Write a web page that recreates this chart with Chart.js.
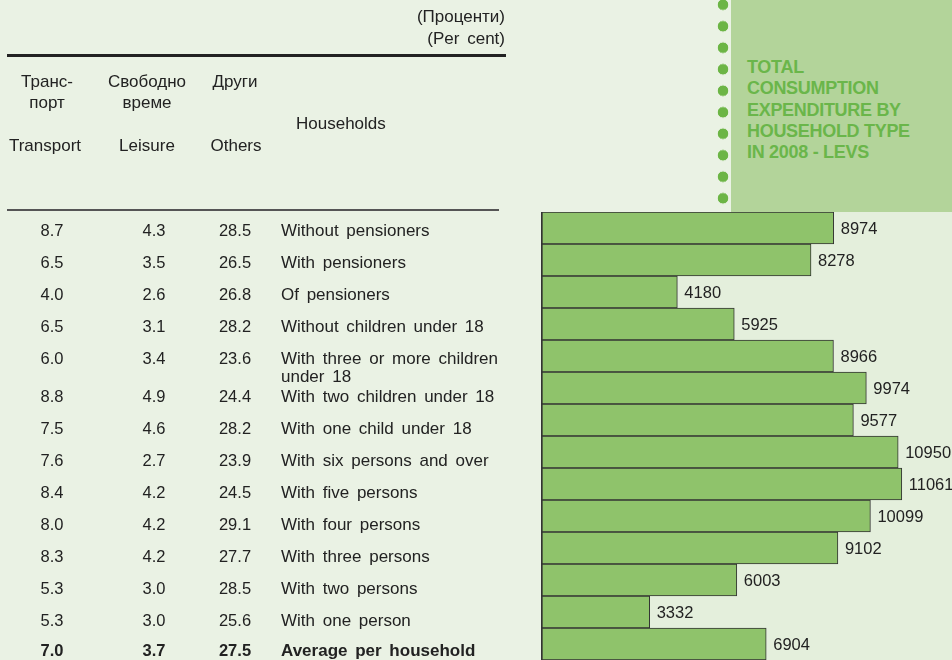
<!DOCTYPE html>
<html>
<head>
<meta charset="utf-8">
<script src="https://cdn.jsdelivr.net/npm/chart.js@4/dist/chart.umd.min.js"></script>
<style>
  html, body { margin: 0; padding: 0; }
  body {
    width: 952px; height: 660px; position: relative; overflow: hidden;
    background: #eaf2e4;
    font-family: "Liberation Sans", Arial, sans-serif; color: #222;
  }
  #chart { position: absolute; left: 0; top: 0; }
  .t { position: absolute; font-size: 17px; line-height: 20px; white-space: nowrap; word-spacing: 3px; }
  .c { transform: translateX(-50%); text-align: center; }
  .r { text-align: right; }
  .rule { position: absolute; left: 7px; }
  #panel { position: absolute; left: 731px; top: 0; width: 221px; height: 212px; background: #b3d49a; }
  #panel-title {
    position: absolute; left: 16px; top: 57px;
    font-weight: bold; font-size: 18px; line-height: 21.3px; color: #6ab64a; letter-spacing: -0.3px;
  }
  #dots {
    position: absolute; left: 712px; top: -6px; width: 22px; height: 215px;
    background: radial-gradient(circle, #6cb545 5px, transparent 5.6px) 0 0 / 22px 21.5px repeat-y;
  }
</style>
</head>
<body>
<canvas id="chart" width="952" height="660"></canvas>

<!-- header block over the table -->
<div class="t r" style="right:447px; top:7px;">(Проценти)</div>
<div class="t r" style="right:447px; top:29px;">(Per cent)</div>
<div class="rule" style="top:54px; width:499px; height:3px; background:#222;"></div>

<div class="t c" style="left:47px; top:72px;">Транс-</div>
<div class="t c" style="left:47px; top:93px;">порт</div>
<div class="t c" style="left:45px; top:136px;">Transport</div>
<div class="t c" style="left:147px; top:72px;">Свободно</div>
<div class="t c" style="left:147px; top:93px;">време</div>
<div class="t c" style="left:147px; top:136px;">Leisure</div>
<div class="t c" style="left:235px; top:72px;">Други</div>
<div class="t c" style="left:236px; top:136px;">Others</div>
<div class="t" style="left:296px; top:114px;">Households</div>
<div class="rule" style="top:209px; width:492px; height:2px; background:#555;"></div>

<div id="dots"></div>
<div id="panel">
  <div id="panel-title">TOTAL<br>CONSUMPTION<br>EXPENDITURE BY<br>HOUSEHOLD TYPE<br>IN 2008 - LEVS</div>
</div>

<script>
const households = [
  'Without pensioners',
  'With pensioners',
  'Of pensioners',
  'Without children under 18',
  ['With three or more children', 'under 18'],
  'With two children under 18',
  'With one child under 18',
  'With six persons and over',
  'With five persons',
  'With four persons',
  'With three persons',
  'With two persons',
  'With one person',
  'Average per household',
];
const totals = [8974, 8278, 4180, 5925, 8966, 9974, 9577, 10950, 11061, 10099, 9102, 6003, 3332, 6904];
const transport = [8.7, 6.5, 4.0, 6.5, 6.0, 8.8, 7.5, 7.6, 8.4, 8.0, 8.3, 5.3, 5.3, 7.0];
const leisure = [4.3, 3.5, 2.6, 3.1, 3.4, 4.9, 4.6, 2.7, 4.2, 4.2, 4.2, 3.0, 3.0, 3.7];
const others = [28.5, 26.5, 26.8, 28.2, 23.6, 24.4, 28.2, 23.9, 24.5, 29.1, 27.7, 28.5, 25.6, 27.5];

const FONT = '"Liberation Sans", Arial, sans-serif';

// light tint behind the bars only
const areaBg = {
  id: 'areaBg',
  beforeDraw(chart) {
    const { ctx, chartArea: a } = chart;
    ctx.save();
    ctx.fillStyle = '#e4efdc';
    ctx.fillRect(a.left, a.top, a.right - a.left, a.bottom - a.top);
    ctx.restore();
  },
};

// totals printed just past the end of each bar
const valueLabels = {
  id: 'valueLabels',
  afterDatasetsDraw(chart) {
    const { ctx } = chart;
    const bars = chart.getDatasetMeta(0).data;
    ctx.save();
    ctx.font = '16.5px ' + FONT;
    ctx.fillStyle = '#222';
    ctx.textBaseline = 'middle';
    bars.forEach((bar, i) => {
      ctx.fillText(String(totals[i]), bar.x + 7, bar.y + 1.5);
    });
    ctx.restore();
  },
};

// percentage columns + household names, one row per category of the y scale
const tableRows = {
  id: 'tableRows',
  afterDraw(chart) {
    const { ctx } = chart;
    const y = chart.scales.y;
    const last = households.length - 1;
    ctx.save();
    ctx.fillStyle = '#222';
    ctx.textBaseline = 'middle';
    if ('wordSpacing' in ctx) ctx.wordSpacing = '3px';
    households.forEach((name, i) => {
      // rows after the wrapped label sit a little lower
      let py = y.getPixelForValue(i) + (i > 4 ? 9.5 : 3);
      if (i === last) py -= 2;
      const weight = i === last ? 'bold ' : '';
      ctx.font = weight + '16.5px ' + FONT;
      ctx.textAlign = 'center';
      ctx.fillText(transport[i].toFixed(1), 52, py);
      ctx.fillText(leisure[i].toFixed(1), 154, py);
      ctx.fillText(others[i].toFixed(1), 235, py);
      ctx.font = weight + '17px ' + FONT;
      ctx.textAlign = 'left';
      const lines = Array.isArray(name) ? name : [name];
      lines.forEach((ln, k) => ctx.fillText(ln, 281, py + k * 18.5));
    });
    ctx.restore();
  },
};

new Chart(document.getElementById('chart'), {
  type: 'bar',
  data: {
    labels: households,
    datasets: [{
      data: totals,
      backgroundColor: '#8fc36b',
      borderColor: '#333',
      borderWidth: { top: 1, right: 1, bottom: 1, left: 2 },
      borderSkipped: false,
      barPercentage: 1,
      categoryPercentage: 1,
    }],
  },
  options: {
    indexAxis: 'y',
    responsive: false,
    animation: false,
    layout: { padding: { left: 541, top: 212, right: 0, bottom: 0 } },
    plugins: { legend: { display: false }, tooltip: { enabled: false } },
    scales: {
      x: { display: false, min: 0, max: 12600 },
      y: { display: false },
    },
  },
  plugins: [areaBg, valueLabels, tableRows],
});
</script>
</body>
</html>
